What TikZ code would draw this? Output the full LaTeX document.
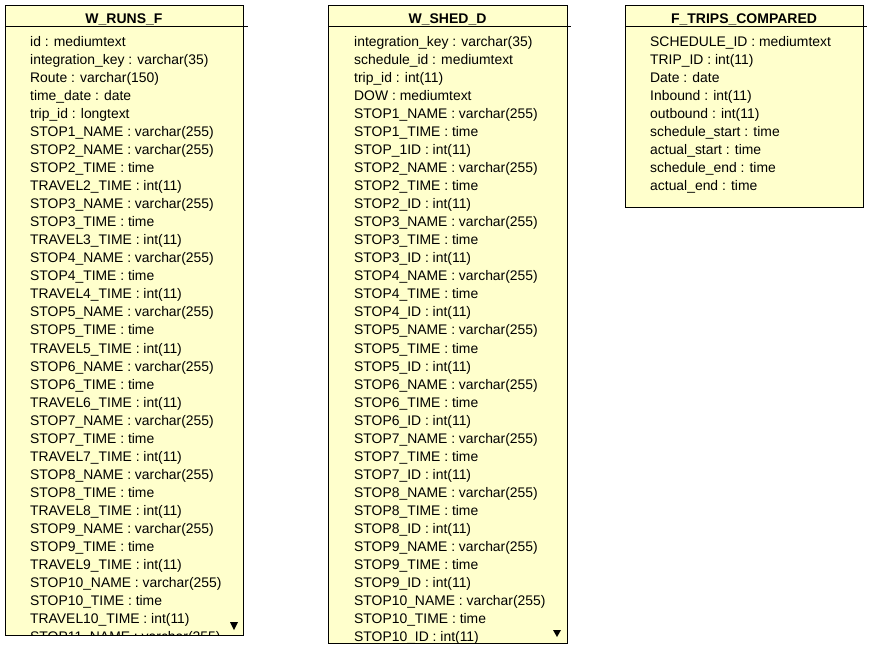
\documentclass[tikz,border=0pt]{standalone}
\usepackage{fontspec}
\setmainfont{Liberation Sans}
\definecolor{tblfill}{HTML}{FFFFCC}
\tikzset{
  tablebox/.style={draw=black, fill=tblfill, line width=1pt, inner sep=0pt, anchor=north west},
  rowtext/.style={anchor=base west, inner sep=0pt, font=\fontsize{13.9}{16}\selectfont},
  titletext/.style={anchor=base, inner sep=0pt, font=\fontsize{14}{16}\selectfont\bfseries},
  headline/.style={draw=black, line width=1pt},
  moretri/.style={fill=black, draw=none}
}
\begin{document}
\begin{tikzpicture}[x=1pt,y=-1pt]
\useasboundingbox (0,0) rectangle (869,649);
\fill[white] (0,0) rectangle (869,649);

% ---------- W_RUNS_F ----------
\node[tablebox, minimum width=238pt, minimum height=630pt] (t1) at (5,5) {};
\node[titletext] (t1title) at (124,23) {W\_RUNS\_F};
\coordinate (h1a) at (5,26);
\coordinate (h1b) at (248,26);
\draw[headline] (h1a) -- (h1b);
\begin{scope}
\clip (5.5,27) rectangle (242.5,634.5);
\foreach \t [count=\i] in {
id : mediumtext,
integration\_key : varchar(35),
Route : varchar(150),
time\_date : date,
trip\_id : longtext,
STOP1\_NAME : varchar(255),
STOP2\_NAME : varchar(255),
STOP2\_TIME : time,
TRAVEL2\_TIME : int(11),
STOP3\_NAME : varchar(255),
STOP3\_TIME : time,
TRAVEL3\_TIME : int(11),
STOP4\_NAME : varchar(255),
STOP4\_TIME : time,
TRAVEL4\_TIME : int(11),
STOP5\_NAME : varchar(255),
STOP5\_TIME : time,
TRAVEL5\_TIME : int(11),
STOP6\_NAME : varchar(255),
STOP6\_TIME : time,
TRAVEL6\_TIME : int(11),
STOP7\_NAME : varchar(255),
STOP7\_TIME : time,
TRAVEL7\_TIME : int(11),
STOP8\_NAME : varchar(255),
STOP8\_TIME : time,
TRAVEL8\_TIME : int(11),
STOP9\_NAME : varchar(255),
STOP9\_TIME : time,
TRAVEL9\_TIME : int(11),
STOP10\_NAME : varchar(255),
STOP10\_TIME : time,
TRAVEL10\_TIME : int(11),
STOP11\_NAME : varchar(255)}
  \node[rowtext] (ra\i) at (30,{46+(\i-1)*18.06}) {\t};
\end{scope}
\fill[moretri] (230,622) -- (238,622) -- (234,630) -- cycle;

% ---------- W_SHED_D ----------
\node[tablebox, minimum width=239pt, minimum height=638pt] (t2) at (328,5) {};
\node[titletext] (t2title) at (447.5,23) {W\_SHED\_D};
\coordinate (h2a) at (328,26);
\coordinate (h2b) at (571,26);
\draw[headline] (h2a) -- (h2b);
\begin{scope}
\clip (328.5,27) rectangle (566.5,642.5);
\foreach \t [count=\i] in {
integration\_key : varchar(35),
schedule\_id : mediumtext,
trip\_id : int(11),
DOW : mediumtext,
STOP1\_NAME : varchar(255),
STOP1\_TIME : time,
STOP\_1ID : int(11),
STOP2\_NAME : varchar(255),
STOP2\_TIME : time,
STOP2\_ID : int(11),
STOP3\_NAME : varchar(255),
STOP3\_TIME : time,
STOP3\_ID : int(11),
STOP4\_NAME : varchar(255),
STOP4\_TIME : time,
STOP4\_ID : int(11),
STOP5\_NAME : varchar(255),
STOP5\_TIME : time,
STOP5\_ID : int(11),
STOP6\_NAME : varchar(255),
STOP6\_TIME : time,
STOP6\_ID : int(11),
STOP7\_NAME : varchar(255),
STOP7\_TIME : time,
STOP7\_ID : int(11),
STOP8\_NAME : varchar(255),
STOP8\_TIME : time,
STOP8\_ID : int(11),
STOP9\_NAME : varchar(255),
STOP9\_TIME : time,
STOP9\_ID : int(11),
STOP10\_NAME : varchar(255),
STOP10\_TIME : time,
STOP10\_ID : int(11)}
  \node[rowtext] (rb\i) at (354,{46+(\i-1)*18.06}) {\t};
\end{scope}
\fill[moretri] (553,630) -- (561,630) -- (557,637) -- cycle;

% ---------- F_TRIPS_COMPARED ----------
\node[tablebox, minimum width=238pt, minimum height=202pt] (t3) at (625,5) {};
\node[titletext] (t3title) at (744,23) {F\_TRIPS\_COMPARED};
\coordinate (h3a) at (625,26);
\coordinate (h3b) at (867,26);
\draw[headline] (h3a) -- (h3b);
\foreach \t [count=\i] in {
SCHEDULE\_ID : mediumtext,
TRIP\_ID : int(11),
Date : date,
Inbound : int(11),
outbound : int(11),
schedule\_start : time,
actual\_start : time,
schedule\_end : time,
actual\_end : time}
  \node[rowtext] (rc\i) at (650,{46+(\i-1)*18.06}) {\t};
\end{tikzpicture}
\end{document}
